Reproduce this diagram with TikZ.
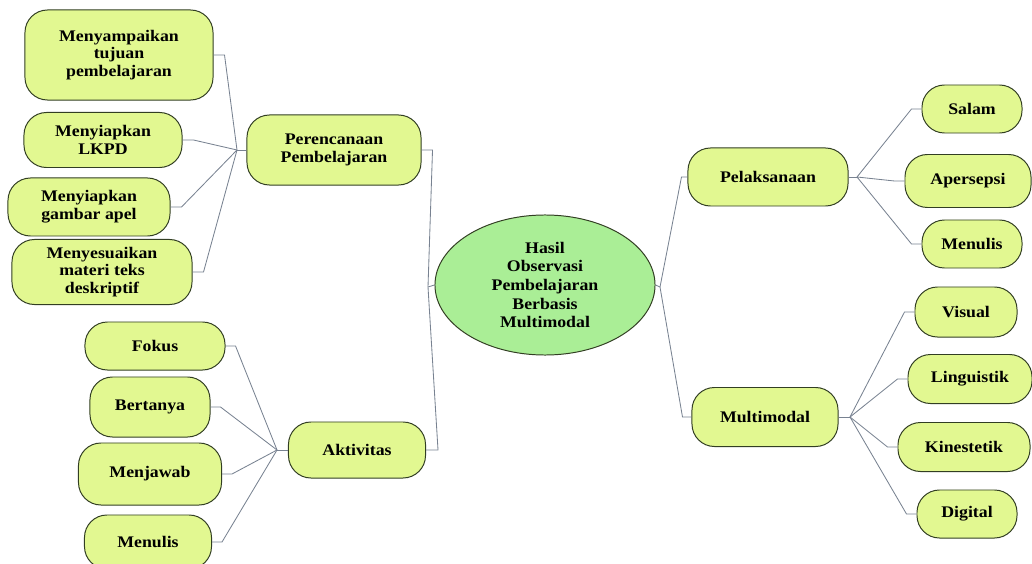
\documentclass[tikz,border=0pt]{standalone}
\usepackage{fontspec}
\setmainfont{Liberation Serif}[FakeStretch=1.1]
\usepackage{xcolor}
\usetikzlibrary{shapes,positioning,calc}

\definecolor{leaffill}{RGB}{226,248,145}
\definecolor{rootfill}{RGB}{170,238,150}
\definecolor{edgecol}{RGB}{50,62,35}
\definecolor{linkcol}{RGB}{120,130,145}

\begin{document}
\begin{tikzpicture}[x=0.025cm,y=-0.025cm,
    box/.style={draw=edgecol, line width=0.7pt, fill=leaffill, rounded corners=16pt, align=center,
        font=\bfseries\fontsize{11.5}{12.6}\selectfont, inner sep=1pt},
    root/.style={draw=edgecol, line width=0.7pt, fill=rootfill, ellipse, align=center,
        font=\bfseries\fontsize{11.5}{13.2}\selectfont, inner sep=0pt},
    link/.style={draw=linkcol, line width=0.6pt}]
    \useasboundingbox (0,0) rectangle (1032,564);

    % central topic
    \node[root, minimum width=5.5cm, minimum height=3.5cm] (hasil) at (545,285)
        {Hasil\\Observasi\\Pembelajaran\\Berbasis\\Multimodal};
    \coordinate (jCL) at (428,287);
    \coordinate (jCR) at (660,287);
    \draw[link] (hasil.west) -- (jCL);
    \draw[link] (hasil.east) -- (jCR);

    % Perencanaan
    \node[box, minimum width=4.35cm, minimum height=1.75cm] (rencana) at (334,150) {Perencanaan\\Pembelajaran};
    \node[box, minimum width=4.7cm, minimum height=2.25cm] (tujuan) at (119,55) {Menyampaikan\\tujuan\\pembelajaran};
    \node[box, minimum width=3.95cm, minimum height=1.375cm] (lkpd) at (103,140) {Menyiapkan\\LKPD};
    \node[box, minimum width=4.05cm, minimum height=1.45cm] (apel) at (89,207) {Menyiapkan\\gambar apel};
    \node[box, minimum width=4.5cm, minimum height=1.625cm] (materi) at (102,272) {Menyesuaikan\\materi teks\\deskriptif};
    \coordinate (jP) at (237,150);
    \draw[link] (rencana.west) -- (jP);
    \foreach \n in {tujuan,lkpd,apel,materi}
        \draw[link] (\n.east) -- ++(11,0) -- (jP);
    \draw[link] (rencana.east) -- ++(11,0) -- (jCL);

    % Aktivitas
    \node[box, minimum width=3.425cm, minimum height=1.4cm] (aktivitas) at (357,450) {Aktivitas};
    \node[box, minimum width=3.5cm, minimum height=1.2cm] (fokus) at (155,346) {Fokus};
    \node[box, minimum width=3.0cm, minimum height=1.5cm] (tanya) at (150,407) {Bertanya};
    \node[box, minimum width=3.575cm, minimum height=1.55cm] (jawab) at (150,474) {Menjawab};
    \node[box, minimum width=3.175cm, minimum height=1.35cm] (tulisL) at (148,542) {Menulis};
    \coordinate (jA) at (277,450);
    \draw[link] (aktivitas.west) -- (jA);
    \foreach \n in {fokus,tanya,jawab,tulisL}
        \draw[link] (\n.east) -- ++(10,0) -- (jA);
    \draw[link] (aktivitas.east) -- ++(12,0) -- (jCL);

    % Pelaksanaan
    \node[box, minimum width=4.0cm, minimum height=1.45cm] (laksana) at (768,177) {Pelaksanaan};
    \node[box, minimum width=2.5cm, minimum height=1.2cm] (salam) at (972,109) {Salam};
    \node[box, minimum width=3.15cm, minimum height=1.325cm] (apersepsi) at (968,181) {Apersepsi};
    \node[box, minimum width=2.5cm, minimum height=1.2cm] (tulisR) at (972,244) {Menulis};
    \coordinate (jPel) at (857,177);
    \draw[link] (laksana.east) -- (jPel);
    \foreach \n in {salam,apersepsi,tulisR}
        \draw[link] (\n.west) -- ++(-10,0) -- (jPel);
    \draw[link] (laksana.west) -- ++(-6,0) -- (jCR);

    % Multimodal
    \node[box, minimum width=3.65cm, minimum height=1.475cm] (multi) at (765,417) {Multimodal};
    \node[box, minimum width=2.55cm, minimum height=1.25cm] (visual) at (966,312) {Visual};
    \node[box, minimum width=3.1cm, minimum height=1.225cm] (linguistik) at (970,379) {Linguistik};
    \node[box, minimum width=3.3cm, minimum height=1.225cm] (kinestetik) at (964,447) {Kinestetik};
    \node[box, minimum width=2.5cm, minimum height=1.2cm] (digital) at (967,514) {Digital};
    \coordinate (jMul) at (850,417);
    \draw[link] (multi.east) -- (jMul);
    \foreach \n in {visual,linguistik,kinestetik,digital}
        \draw[link] (\n.west) -- ++(-10,0) -- (jMul);
    \draw[link] (multi.west) -- ++(-9,0) -- (jCR);
\end{tikzpicture}
\end{document}
